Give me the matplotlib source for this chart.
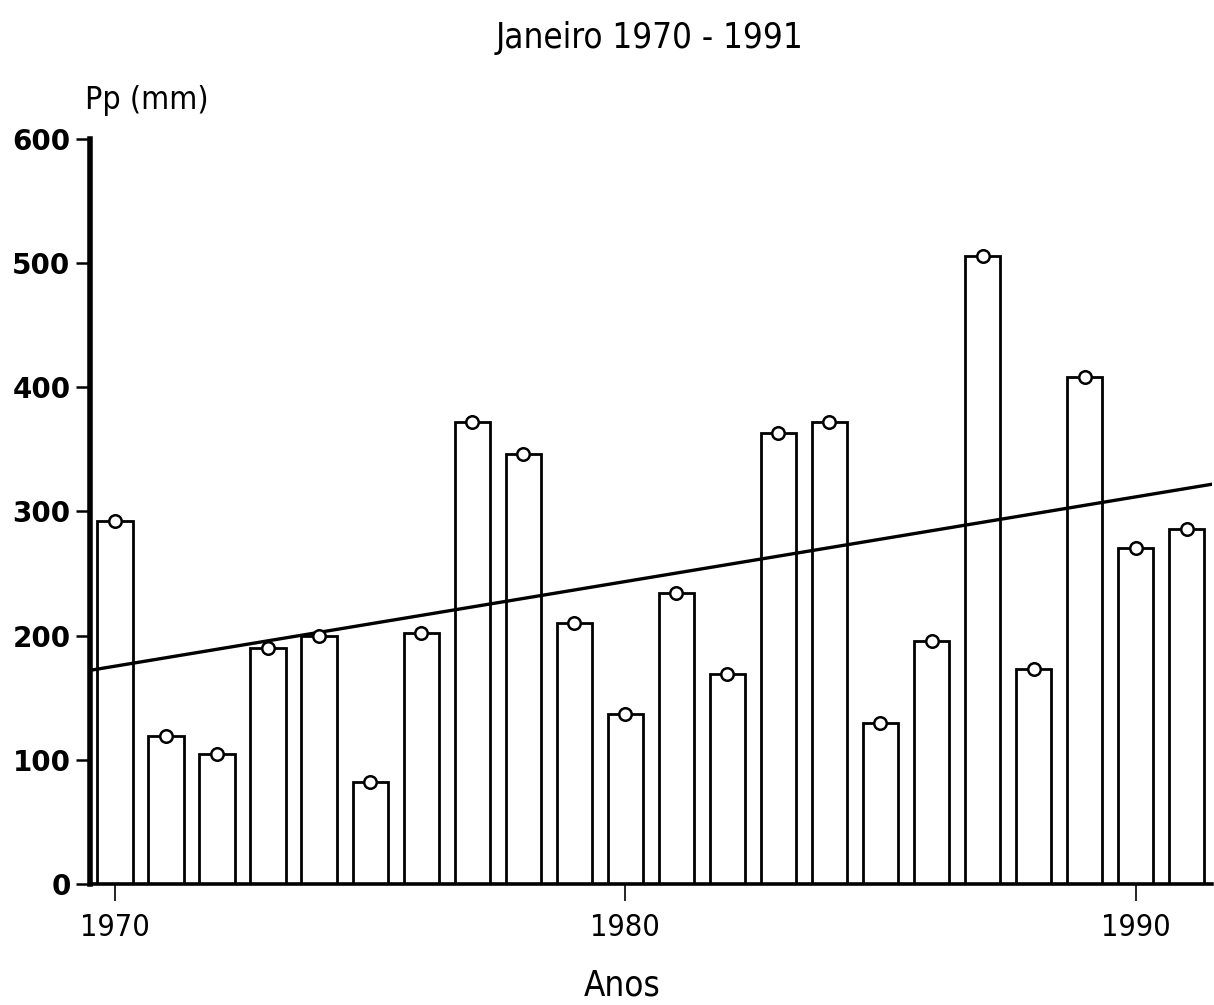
import matplotlib
matplotlib.use("Agg")
import matplotlib.pyplot as plt

# ---- data ----
years = [1970, 1971, 1972, 1973, 1974, 1975, 1976, 1977, 1978, 1979, 1980,
         1981, 1982, 1983, 1984, 1985, 1986, 1987, 1988, 1989, 1990, 1991]
precip_mm = [292, 119, 105, 190, 200, 82, 202, 372, 346, 210, 137,
             234, 169, 363, 372, 130, 196, 506, 173, 408, 271, 286]
trend_years = [1969.5, 1991.5]
trend_values = [172, 322]
y_ticks = [0, 100, 200, 300, 400, 500, 600]
x_ticks = [1970, 1980, 1990]
title = "Janeiro 1970 - 1991"
y_label = "Pp (mm)"
x_label = "Anos"

plt.rcParams['font.family'] = ['DejaVu Sans']

fig = plt.figure(figsize=(12.14, 10.05), dpi=100)
ax = fig.add_axes([0.0741, 0.1204, 0.924, 0.7413])

ax.bar(years, precip_mm, width=0.69, facecolor='white', edgecolor='black',
       linewidth=2.0, zorder=2)
ax.plot(trend_years, trend_values, color='black', lw=2.4, zorder=3,
        solid_capstyle='butt')
ax.plot(years, precip_mm, 'o', mfc='white', mec='black', ms=9, mew=1.8,
        zorder=4, clip_on=False)

ax.set_xlim(1969.51, 1991.49)
ax.set_ylim(0, 600)

for s in ('top', 'right'):
    ax.spines[s].set_visible(False)
ax.spines['left'].set_linewidth(4)
ax.spines['bottom'].set_linewidth(2.6)

ax.set_yticks(y_ticks)
ax.set_yticklabels([str(v) for v in y_ticks])
ax.set_xticks(x_ticks)
ax.set_xticklabels([str(v) for v in x_ticks])
ax.tick_params(axis='y', length=10, width=1.8, pad=4, labelsize=20)
ax.tick_params(axis='x', length=12, width=1.2, pad=9, labelsize=22)
for lab in ax.get_yticklabels():
    lab.set_fontweight('bold')
for lab in ax.get_xticklabels():
    lab.set_fontstretch('condensed')

fig.text(0.535, 1 - 38 / 1005, title, ha='center', va='center',
         fontsize=25, fontstretch='condensed')
fig.text(85 / 1214, 1 - 100 / 1005, y_label, ha='left', va='center',
         fontsize=23, fontstretch='condensed')
fig.text(622 / 1214, 1 - 985 / 1005, x_label, ha='center', va='center',
         fontsize=25, fontstretch='condensed')

fig.savefig("out.png", dpi=100, facecolor='white')
